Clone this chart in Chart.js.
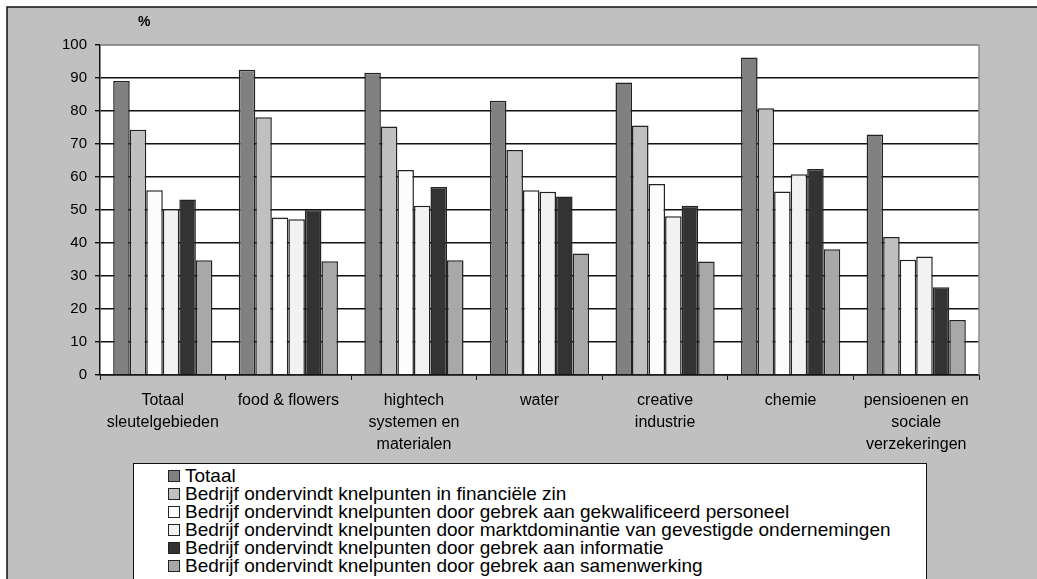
<!DOCTYPE html>
<html>
<head>
<meta charset="utf-8">
<script src="https://cdn.jsdelivr.net/npm/chart.js@4.4.1/dist/chart.umd.min.js"></script>
<style>
  html, body { margin: 0; padding: 0; background: #fff; }
  #wrap { position: relative; width: 1037px; height: 579px; overflow: hidden; }
  #legend {
    position: absolute; left: 133px; top: 463px; width: 794px; height: 140px;
    background: #fff; border: 1.5px solid #111; box-sizing: border-box;
    padding: 3px 0 0 34px;
    font-family: "Liberation Sans", Arial, sans-serif; font-size: 19px; line-height: 18px; color: #000;
  }
  #legend div { white-space: nowrap; }
  #legend span.box {
    display: inline-block; width: 10px; height: 10px; border: 1px solid #222;
    margin-right: 5px; vertical-align: 0px;
  }
</style>
</head>
<body>
<div id="wrap">
  <canvas id="chart" width="1037" height="579"></canvas>
  <div id="legend"></div>
</div>
<script>
// categories (multi-line labels)
const categories = [
    ['Totaal', 'sleutelgebieden'],
    'food & flowers',
    ['hightech', 'systemen en', 'materialen'],
    'water',
    ['creative', 'industrie'],
    'chemie',
    ['pensioenen en', 'sociale', 'verzekeringen']
];

const seriesNames = [
    'Totaal',
    'Bedrijf ondervindt knelpunten in financiële zin',
    'Bedrijf ondervindt knelpunten door gebrek aan gekwalificeerd personeel',
    'Bedrijf ondervindt knelpunten door marktdominantie van gevestigde ondernemingen',
    'Bedrijf ondervindt knelpunten door gebrek aan informatie',
    'Bedrijf ondervindt knelpunten door gebrek aan samenwerking'
];

// values per series, one per category
const totaal       = [89.1, 92.5, 91.6, 83.1, 88.6, 96.2, 72.9];
const financieel   = [74.3, 78.1, 75.3, 68.2, 75.6, 80.8, 41.8];
const personeel    = [56.0, 47.7, 62.1, 56.0, 57.9, 55.6, 34.9];
const marktdominan = [50.3, 47.2, 51.3, 55.5, 48.1, 60.8, 35.9];
const informatie   = [53.2, 49.9, 57.0, 54.1, 51.3, 62.4, 26.6];
const samenwerking = [34.8, 34.5, 34.8, 36.8, 34.4, 38.1, 16.7];

const seriesValues = [totaal, financieel, personeel, marktdominan, informatie, samenwerking];
const seriesColors = ['#808080', '#c0c0c0', '#fcfcfc', '#f2f2f2', '#333333', '#a8a8a8'];

const yTicks = [0, 10, 20, 30, 40, 50, 60, 70, 80, 90, 100];

const FONT = '"Liberation Sans", Arial, sans-serif';

// background, frame, white plot area, "%" label
const framePlugin = {
    id: 'frame',
    beforeDraw(chart) {
        const c = chart.ctx;
        const a = chart.chartArea;
        c.save();
        c.fillStyle = '#fff';
        c.fillRect(0, 0, chart.width, chart.height);
        c.fillStyle = '#c0c0c0';
        c.fillRect(7, 7, chart.width - 7, chart.height - 7);
        c.strokeStyle = '#111';
        c.lineWidth = 1.5;
        c.beginPath();
        c.moveTo(7, chart.height);
        c.lineTo(7, 7);
        c.lineTo(chart.width, 7);
        c.stroke();
        c.fillStyle = '#fff';
        c.fillRect(a.left, a.top, a.right - a.left, a.bottom - a.top);
        c.fillStyle = '#000';
        c.font = 'bold 14px ' + FONT;
        c.textAlign = 'left';
        c.textBaseline = 'middle';
        c.fillText('%', 138, 22);
        c.restore();
    },
    afterDatasetsDraw(chart) {
        const c = chart.ctx;
        const a = chart.chartArea;
        c.save();
        c.strokeStyle = '#8c8c8c';
        c.lineWidth = 1.5;
        c.beginPath();
        c.moveTo(a.left, a.top);
        c.lineTo(a.right, a.top);
        c.lineTo(a.right, a.bottom);
        c.stroke();
        c.restore();
    }
};

const ctx = document.getElementById('chart').getContext('2d');
const chart = new Chart(ctx, {
    type: 'bar',
    data: {
        labels: categories,
        datasets: seriesNames.map((name, i) => ({
            label: name,
            data: seriesValues[i],
            backgroundColor: seriesColors[i],
            borderColor: '#222',
            borderWidth: 1.5,
            categoryPercentage: 0.79,
            barPercentage: 1.0
        }))
    },
    options: {
        responsive: false,
        animation: false,
        layout: { padding: { left: 0, top: 45, right: 58, bottom: 0 } },
        plugins: {
            legend: { display: false },
            tooltip: { enabled: false }
        },
        scales: {
            x: {
                afterFit(scale) { scale.height = 204; },
                grid: {
                    offset: true,
                    drawOnChartArea: false,
                    drawTicks: true,
                    tickLength: 5,
                    color: '#111'
                },
                border: { color: '#111', width: 1.5 },
                ticks: {
                    color: '#000',
                    font: { family: FONT, size: 16, lineHeight: 1.4 },
                    padding: 9,
                    maxRotation: 0,
                    autoSkip: false
                }
            },
            y: {
                min: 0,
                max: 100,
                afterFit(scale) { scale.width = 100; },
                afterBuildTicks(scale) { scale.ticks = yTicks.map(v => ({ value: v })); },
                grid: {
                    color: (c) => c.tick && c.tick.value === 100 ? '#8c8c8c' : '#111',
                    lineWidth: 1.4,
                    tickLength: 5,
                    tickColor: '#111'
                },
                border: { color: '#111', width: 1.5 },
                ticks: {
                    color: '#000',
                    font: { family: FONT, size: 15 },
                    padding: 8
                }
            }
        }
    },
    plugins: [framePlugin]
});

// legend built from the series arrays
const legendEl = document.getElementById('legend');
seriesNames.forEach((name, i) => {
    const row = document.createElement('div');
    const box = document.createElement('span');
    box.className = 'box';
    box.style.background = seriesColors[i];
    row.appendChild(box);
    row.appendChild(document.createTextNode(name));
    legendEl.appendChild(row);
});
</script>
</body>
</html>
